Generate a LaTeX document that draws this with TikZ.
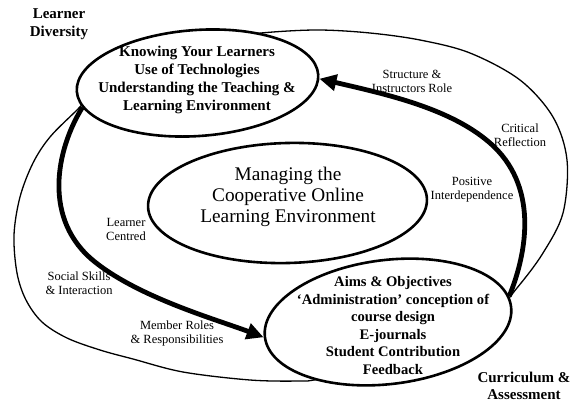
\documentclass[tikz,border=0pt]{standalone}
\usepackage{fontspec}
\setmainfont{Liberation Serif}
\usetikzlibrary{arrows.meta,shapes.geometric}
\begin{document}
\begin{tikzpicture}[x=1pt,y=-1pt,
  zone/.style={ellipse, draw, line width=2.6pt, fill=white, inner sep=0pt},
  zonetext/.style={align=center, inner sep=0pt, font=\fontsize{15}{18}\selectfont\bfseries},
  coretext/.style={align=center, inner sep=0pt, font=\fontsize{19.3}{21}\selectfont},
  theme/.style={align=center, inner sep=0pt, font=\fontsize{15}{17.5}\selectfont\bfseries},
  link/.style={align=center, inner sep=0pt, font=\fontsize{12.5}{14}\selectfont},
  flow/.style={line width=4.8pt, -{Triangle[length=17pt,width=16pt]}},
  rim/.style={line width=1.3pt, line join=round}]
\path[use as bounding box, fill=white] (0,0) rectangle (570,402);

% outer boundary, partly hidden under the filled ellipses
\draw[rim] plot[smooth cycle, tension=0.55] coordinates {
  (320,30) (370,33) (420,40) (470,53) (520,80) (553,117) (567,160)
  (563,213) (543,253) (517,288) (480,330) (420,362) (320,379)
  (300,381) (250,380) (183,372) (133,359) (100,350) (67,338)
  (42,322) (26,300) (17,273) (14,235) (20,197) (33,163) (50,137)
  (77,110) (110,78) (180,48) (240,36) (273,32)};

% the three ellipses
\node[zone, minimum width=242pt, minimum height=106pt, rotate=4] (A) at (197.5,83) {};
\node[zone, minimum width=279pt, minimum height=120pt, rotate=1.5] (B) at (287.5,203) {};
\node[zone, minimum width=248pt, minimum height=124pt, rotate=7] (C) at (388,322) {};

\node[zonetext] (Atext) at (197,80) {Knowing Your Learners\\Use of Technologies\\Understanding the Teaching \&\\Learning Environment};
\node[coretext] (Btext) at (288,197) {Managing the\\Cooperative Online\\Learning Environment};
\node[zonetext, font=\fontsize{14.6}{17.6}\selectfont\bfseries] (Ctext) at (393,325.5)
  {Aims \& Objectives\\`Administration' conception of\\course design\\E-journals\\Student Contribution\\Feedback};

% thick cycle arrows
\draw[flow] (A.188) .. controls (56,150) and (42,220) .. (95,262)
  .. controls (140,298) and (218,320) .. (C.180);
\draw[flow] (C.5) .. controls (528,250) and (538,185) .. (490,143)
  .. controls (450,108) and (385,94) .. (A.358);

% theme labels
\node[theme] (diversity) at (59,24) {Learner\\Diversity};
\node[theme] (curriculum) at (524,386) {Curriculum \&\\Assessment};

% link labels
\node[link] (structure) at (412,81) {Structure \&\\Instructors Role};
\node[link] (critical) at (520,135.5) {Critical\\Reflection};
\node[link] (positive) at (472,189.5) {Positive\\Interdependence};
\node[link] (centred) at (126,229) {Learner\\Centred};
\node[link] (social) at (79,283) {Social Skills\\\& Interaction};
\node[link] (member) at (177,333.5) {Member Roles\\\& Responsibilities};
\end{tikzpicture}
\end{document}
